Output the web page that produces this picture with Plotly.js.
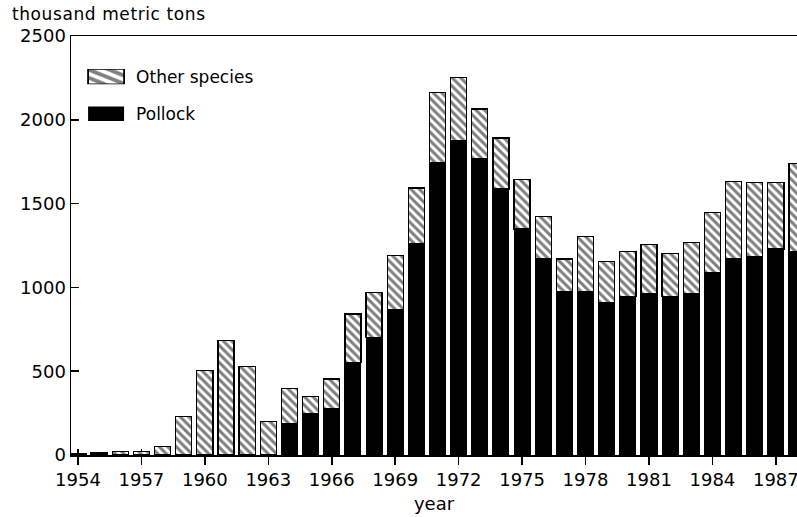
<!DOCTYPE html>
<html>
<head>
<meta charset="utf-8">
<script src="https://cdn.plot.ly/plotly-3.0.1.min.js"></script>
<style>
html,body{margin:0;padding:0;background:#fff;}
#chart{width:797px;height:517px;}
#chart .gtitle{letter-spacing:0.6px;}
</style>
</head>
<body>
<div id="chart"></div>
<script>
const years = [1954,1955,1956,1957,1958,1959,1960,1961,1962,1963,1964,1965,1966,1967,1968,1969,1970,1971,1972,1973,1974,1975,1976,1977,1978,1979,1980,1981,1982,1983,1984,1985,1986,1987,1988];
const pollock = [0,0,0,0,0,0,0,0,0,0,185,245,274,553,702,865,1259,1746,1875,1766,1587,1348,1173,974,974,911,947,965,945,965,1090,1169,1183,1229,1215];
const otherSpecies = [8,12,20,20,50,231,503,682,529,201,213,103,179,288,269,326,334,418,378,298,304,295,249,195,329,245,266,290,258,304,358,464,444,398,525];
const tickYears = [1954,1957,1960,1963,1966,1969,1972,1975,1978,1981,1984,1987];
const yTicks = [0,500,1000,1500,2000,2500];

const FONT = "DejaVu Sans, Arial, sans-serif";

const traces = [
  {
    type: 'bar', name: 'Pollock', legendgroup: 'pollock', legendrank: 2, x: years, y: pollock, width: 0.76,
    marker: {color: '#000000', line: {color: '#000000', width: pollock.map(v => v > 0 ? 1 : 0)}}
  },
  {
    type: 'bar', name: 'Other species', legendgroup: 'other', legendrank: 1, x: years, y: otherSpecies, width: 0.76,
    marker: {
      color: '#ffffff',
      line: {color: '#000000', width: 1.3},
      pattern: {shape: '\\', fgcolor: '#000000', bgcolor: '#ffffff', size: 6, solidity: 0.5, fillmode: 'overlay'}
    }
  },
  {type: 'scatter', x: [1954], y: [null], xaxis: 'x2', showlegend: false, hoverinfo: 'skip'}
];

const layout = {
  width: 797, height: 517,
  margin: {l: 71, r: 0, t: 36, b: 62},
  paper_bgcolor: '#ffffff', plot_bgcolor: '#ffffff',
  barmode: 'stack',
  font: {family: FONT, color: '#000000', size: 17},
  title: {text: 'thousand metric tons', x: 0.015, xanchor: 'left', y: 0.972, yanchor: 'middle', xref: 'container', yref: 'container',
          font: {family: FONT, size: 17, color: '#000000'}},
  xaxis: {
    range: [1953.67, 1988.0],
    tickvals: tickYears, ticktext: tickYears.map(String),
    ticks: 'outside', ticklen: 8, tickwidth: 1.5, tickcolor: '#000',
    ticklabeloverflow: 'allow',
    showline: true, linecolor: '#000', linewidth: 1.5, mirror: true,
    showgrid: false, zeroline: false,
    tickfont: {family: FONT, size: 18, color: '#000'},
    title: {text: 'year', font: {family: FONT, size: 18, color: '#000'}, standoff: 8}
  },
  xaxis2: {
    overlaying: 'x', side: 'bottom', range: [1953.67, 1988.0],
    tickvals: tickYears, showticklabels: false,
    ticks: 'inside', ticklen: 6, tickwidth: 1.5, tickcolor: '#000',
    showline: false, showgrid: false, zeroline: false, layer: 'below traces'
  },
  yaxis: {
    range: [0, 2500],
    tickvals: yTicks, ticktext: yTicks.map(String),
    ticks: 'inside', ticklen: 8, tickwidth: 1.5, tickcolor: '#000',
    showline: true, linecolor: '#000', linewidth: 1.5, mirror: false,
    showgrid: false, zeroline: false,
    tickfont: {family: FONT, size: 18, color: '#000'}
  },
  legend: {
    x: 0.007, xanchor: 'left', y: 0.945, yanchor: 'top',
    bgcolor: 'rgba(0,0,0,0)', borderwidth: 0,
    traceorder: 'grouped', tracegroupgap: 12,
    itemwidth: 50,
    font: {family: FONT, size: 17, color: '#000'}
  },
  showlegend: true
};

Plotly.newPlot('chart', traces, layout, {displayModeBar: false, staticPlot: true}).then(function (gd) {
  // widen the legend swatches to match the reference's wide boxes
  gd.querySelectorAll('.legend .legendpoints path').forEach(function (p) {
    const t = p.getAttribute('transform') || '';
    p.setAttribute('transform', t + ' scale(3,1.2)');
    p.style.strokeWidth = '0.6px';
  });
});
</script>
</body>
</html>
